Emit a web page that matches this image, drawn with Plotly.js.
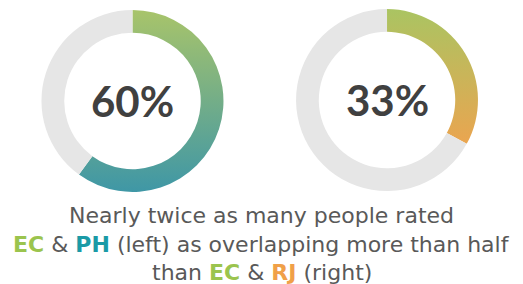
<!DOCTYPE html>
<html>
<head>
<meta charset="utf-8">
<script src="https://cdn.plot.ly/plotly-3.0.1.min.js"></script>
<style>html,body{margin:0;padding:0;background:#fff;}#chart{width:523px;height:284px;}</style>
</head>
<body>
<div id="chart"></div>
<script>
// Data
const labels = ["Overlap > half", "Other"];
const leftValues = [60, 40];
const rightValues = [33, 67];
const leftLabel = "60%";
const rightLabel = "33%";
const captionLines = [
  "Nearly twice as many people rated",
  "<b style='color:#9BC44E'>EC</b> &amp; <b style='color:#1A9AA6'>PH</b> (left) as overlapping more than half",
  "than <b style='color:#9BC44E'>EC</b> &amp; <b style='color:#F0A048'>RJ</b> (right)"
];

const ringGray = "#E6E6E6";
const common = {
  type: "pie", labels: labels, hole: 0.75, sort: false, direction: "clockwise",
  rotation: 0, textinfo: "none", hoverinfo: "none", showlegend: false
};
const traces = [
  Object.assign({}, common, {values: leftValues, domain: {x: [0.0793, 0.4273], y: [0.324, 0.965]},
    marker: {colors: ["#7FB08A", ringGray], line: {width: 0}}}),
  Object.assign({}, common, {values: rightValues, domain: {x: [0.566, 0.914], y: [0.3275, 0.968]},
    marker: {colors: ["#CDB85A", ringGray], line: {width: 0}}})
];
const font = "DejaVu Sans, sans-serif";
const ann = [
  {text: "<b>" + leftLabel + "</b>", x: 132.5/523, y: 1 - 101/284, xref: "paper", yref: "paper", showarrow: false,
   font: {family: "Lato, sans-serif", size: 42, color: "#404040"}, xanchor: "center", yanchor: "middle"},
  {text: "<b>" + rightLabel + "</b>", x: 387/523, y: 1 - 100/284, xref: "paper", yref: "paper", showarrow: false,
   font: {family: "Lato, sans-serif", size: 42, color: "#404040"}, xanchor: "center", yanchor: "middle"}
];
const lineY = [215, 244, 272];
captionLines.forEach((t, i) => {
  ann.push({text: t, x: 0.5, y: 1 - lineY[i]/284, xref: "paper", yref: "paper", showarrow: false,
    font: {family: font, size: 22, color: "#595959"}, xanchor: "center", yanchor: "middle"});
});
const layout = {
  width: 523, height: 284, margin: {l: 0, r: 0, t: 0, b: 0},
  paper_bgcolor: "#fff", plot_bgcolor: "#fff", annotations: ann
};
Plotly.newPlot("chart", traces, layout, {displayModeBar: false, staticPlot: true}).then(function () {
  const svg = document.querySelector("#chart svg.main-svg");
  const ns = "http://www.w3.org/2000/svg";
  let defs = svg.querySelector("defs");
  if (!defs) { defs = document.createElementNS(ns, "defs"); svg.insertBefore(defs, svg.firstChild); }
  function grad(id, c1, c2) {
    const g = document.createElementNS(ns, "linearGradient");
    g.setAttribute("id", id); g.setAttribute("x1", "0"); g.setAttribute("y1", "0");
    g.setAttribute("x2", "0"); g.setAttribute("y2", "1");
    [[0, c1], [1, c2]].forEach(function (s) {
      const st = document.createElementNS(ns, "stop");
      st.setAttribute("offset", s[0]); st.setAttribute("stop-color", s[1]); g.appendChild(st);
    });
    defs.appendChild(g);
  }
  grad("gradL", "#A8C46A", "#3F97A6");
  grad("gradR", "#AAC462", "#EAA550");
  const ids = ["gradL", "gradR"];
  const traceGroups = document.querySelectorAll("#chart g.pielayer > g.trace");
  traceGroups.forEach(function (p, i) {
    const s = p.querySelector("g.slice path.surface");
    if (s) s.style.fill = "url(#" + ids[i] + ")";
  });
});
</script>
</body>
</html>
